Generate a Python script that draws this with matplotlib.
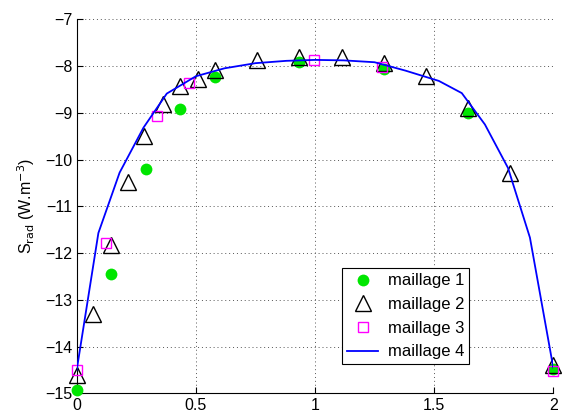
import numpy as np
import matplotlib
matplotlib.use('Agg')
from matplotlib import pyplot as plt

# maillage 1 (green dots)
x1 = [0, 0.143, 0.29, 0.435, 0.58, 0.934, 1.29, 1.643, 2.0]
y1 = [-14.93, -12.45, -10.21, -8.93, -8.23, -7.92, -8.07, -9.0, -14.48]

# maillage 2 (triangles)
x2 = [0, 0.07, 0.144, 0.217, 0.284, 0.361, 0.433, 0.51, 0.58,
      0.755, 0.934, 1.112, 1.29, 1.466, 1.643, 1.818, 2.0]
y2 = [-14.6, -13.3, -11.83, -10.48, -9.5, -8.81, -8.42, -8.28, -8.08,
      -7.88, -7.8, -7.81, -7.94, -8.21, -8.9, -10.28, -14.4]

# maillage 3 (squares)
x3 = [0, 0.122, 0.335, 0.471, 0.997, 1.28, 2.0]
y3 = [-14.51, -11.79, -9.08, -8.37, -7.87, -8.02, -14.52]

# maillage 4 (line)
x4 = [0, 0.091, 0.18, 0.28, 0.378, 0.5, 0.62, 0.75, 0.88, 1.0,
      1.12, 1.25, 1.38, 1.52, 1.616, 1.713, 1.81, 1.902, 2.0]
y4 = [-14.5, -11.57, -10.28, -9.32, -8.59, -8.22, -8.05, -7.94, -7.89, -7.87,
      -7.88, -7.92, -8.1, -8.32, -8.58, -9.25, -10.18, -11.67, -14.45]

plt.rcParams['font.family'] = ['Liberation Sans', 'DejaVu Sans']

fig = plt.figure(figsize=(5.62, 4.13), dpi=100)
ax = fig.add_axes([0.1365, 0.0475, 0.848, 0.906])

ax.plot(x1, y1, 'o', color='#00e600', markersize=8.5, markeredgewidth=0,
        label='maillage 1', zorder=3, clip_on=False)
ax.plot(x2, y2, '^', markerfacecolor='none', markeredgecolor='k',
        markersize=11, markeredgewidth=1.0, label='maillage 2', zorder=4,
        clip_on=False)
ax.plot(x3, y3, 's', markerfacecolor='none', markeredgecolor='#ff00ff',
        markersize=7.5, markeredgewidth=1.0, label='maillage 3', zorder=5,
        clip_on=False)
ax.plot(x4, y4, '-', color='#0000ff', linewidth=1.3, label='maillage 4', zorder=6)

ax.set_xlim(0, 2)
ax.set_ylim(-15, -7)
ax.set_xticks([0, 0.5, 1, 1.5, 2])
ax.set_xticklabels(['0', '0.5', '1', '1.5', '2'])
ax.set_yticks(np.arange(-15, -6, 1))
ax.set_yticklabels(['\u2212%d' % abs(v) for v in range(-15, -6)])
ax.tick_params(direction='in', length=4, width=0.8, labelsize=11.5, pad=3)

ax.grid(True, linestyle=(0, (1, 3)), color='#555555', linewidth=0.7)
ax.spines['top'].set_visible(False)
ax.spines['right'].set_visible(False)

ax.set_ylabel(r'S$_{\rm rad}$ (W.m$^{-3}$)', fontsize=11.5, labelpad=6)

leg = ax.legend(loc='lower left', bbox_to_anchor=(0.556, 0.0775),
                fontsize=12, fancybox=False, framealpha=1,
                edgecolor='k', borderpad=0.3, labelspacing=0.52,
                handlelength=1.9, handletextpad=0.55, borderaxespad=0)
leg.get_frame().set_linewidth(0.8)

fig.savefig('out.png', dpi=100)
